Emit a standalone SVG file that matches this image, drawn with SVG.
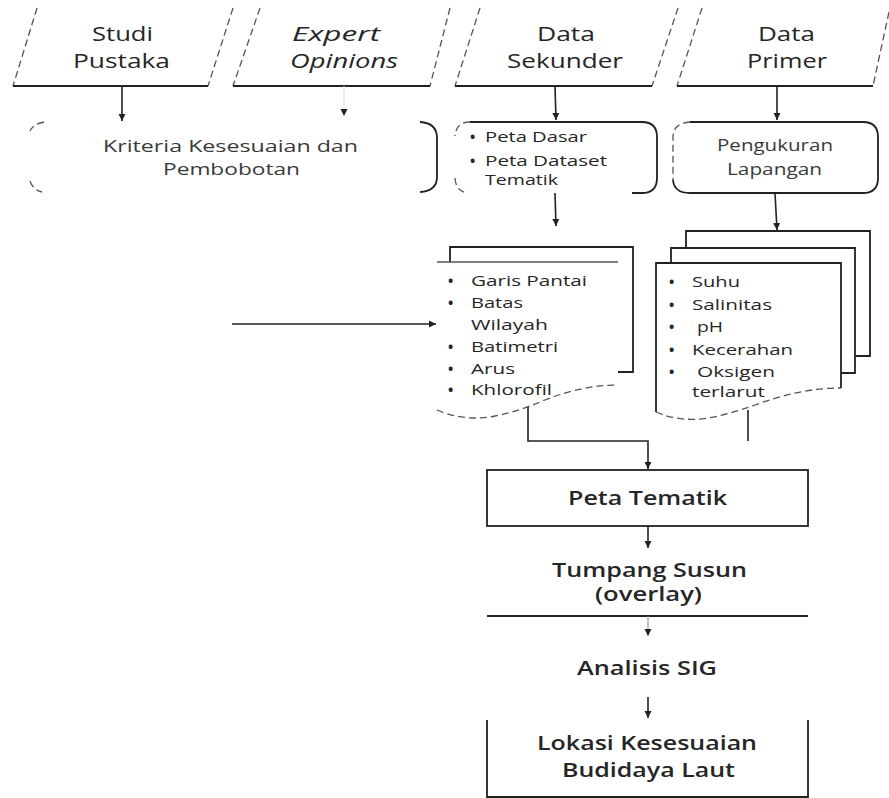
<svg xmlns="http://www.w3.org/2000/svg" width="889" height="798" viewBox="0 0 889 798">
<defs>
<marker id="ah" markerUnits="userSpaceOnUse" markerWidth="9" markerHeight="9" refX="7" refY="4" orient="auto"><path d="M0,0.5 L7,4 L0,7.5 z" fill="#222"/></marker>
</defs>
<style>
text{font-family:"Open Sans","Liberation Sans",sans-serif;fill:#262626}
.t{font-size:20px}
.it{font-style:italic}
.m{font-size:16px;fill:#3a3a3a}
.l{font-size:15px}
.bu{font-size:14px;font-weight:700}
.b{font-size:19px;font-weight:600}
.ln{fill:none;stroke:#222;stroke-width:1.8}
.ds{fill:none;stroke:#555;stroke-width:1.3;stroke-dasharray:7 4}
.fa{fill:none;stroke:#555;stroke-width:1.4}
.cn{fill:none;stroke:#222;stroke-width:1.6}
</style>
<rect width="889" height="798" fill="#fff"/>

<g id="studi-pustaka">
<path class="ds" d="M37 8 L13 86 M233 8 L208 86"/>
<path class="ln" d="M13 86 L208 86"/>
<text class="t" x="92" y="41" textLength="61" lengthAdjust="spacingAndGlyphs">Studi</text>
<text class="t" x="73" y="68" textLength="97" lengthAdjust="spacingAndGlyphs">Pustaka</text>
</g>

<g id="expert-opinions">
<path class="ds" d="M260 8 L233 86 M450 8 L430 86"/>
<path class="ln" d="M233 86 L430 86"/>
<text class="t it" x="292" y="41" textLength="88" lengthAdjust="spacingAndGlyphs">Expert</text>
<text class="t it" x="290" y="68" textLength="108" lengthAdjust="spacingAndGlyphs">Opinions</text>
</g>

<g id="data-sekunder">
<path class="ds" d="M480 8 L455 86 M678 8 L652 86"/>
<path class="ln" d="M455 86 L652 86"/>
<text class="t" x="537" y="41" textLength="58" lengthAdjust="spacingAndGlyphs">Data</text>
<text class="t" x="507" y="68" textLength="116" lengthAdjust="spacingAndGlyphs">Sekunder</text>
</g>

<g id="data-primer">
<path class="ds" d="M702 8 L677 86 M889 12 L873 86"/>
<path class="ln" d="M677 86 L873 86"/>
<text class="t" x="758" y="41" textLength="57" lengthAdjust="spacingAndGlyphs">Data</text>
<text class="t" x="747" y="68" textLength="80" lengthAdjust="spacingAndGlyphs">Primer</text>
</g>

<g id="kriteria">
<path class="ds" d="M44 122 Q33 124 30 131 M30 181 Q33 190 42 192"/>
<path class="ln" d="M420 122 Q437 123 437 138 L437 177 Q437 191 420 192"/>
<text class="m" x="103" y="152" textLength="255" lengthAdjust="spacingAndGlyphs">Kriteria Kesesuaian dan</text>
<text class="m" x="163" y="175" textLength="137" lengthAdjust="spacingAndGlyphs">Pembobotan</text>
</g>

<g id="peta-dasar">
<path class="ln" d="M470 122 L642 122 Q657 122 657 137 L657 178 Q657 193 642 193 L632 193"/>
<path class="ds" d="M470 122 Q456 122 455 136 M455 178 Q456 192 468 193"/>
<text class="bu" x="470" y="142">•</text>
<text class="l" x="485" y="142" textLength="102" lengthAdjust="spacingAndGlyphs">Peta Dasar</text>
<text class="bu" x="470" y="166">•</text>
<text class="l" x="485" y="166" textLength="122" lengthAdjust="spacingAndGlyphs">Peta Dataset</text>
<text class="l" x="485" y="185" textLength="73" lengthAdjust="spacingAndGlyphs">Tematik</text>
</g>

<g id="pengukuran">
<path class="ln" d="M690 122 L863 122 Q878 122 878 137 L878 178 Q878 193 863 193 L690 193 Q674 193 673 180"/>
<path class="ds" d="M690 122 Q674 123 673 136 L673 180"/>
<text class="m" x="717" y="151" textLength="116" lengthAdjust="spacingAndGlyphs">Pengukuran</text>
<text class="m" x="727" y="175" textLength="95" lengthAdjust="spacingAndGlyphs">Lapangan</text>
</g>

<g id="dataset-doc">
<path class="ln" d="M450 262 L450 247 L633 247 L633 372 L618 372"/>
<path class="fa" d="M437 262 L618 262"/>
<path class="ds" d="M437 410 C455 418 475 420 495 416 C515 412 528 407 545 400 C570 390 595 385 618 385"/>
<text class="bu" x="448" y="286">•</text>
<text class="l" x="471" y="286" textLength="116" lengthAdjust="spacingAndGlyphs">Garis Pantai</text>
<text class="bu" x="448" y="308">•</text>
<text class="l" x="471" y="308" textLength="52" lengthAdjust="spacingAndGlyphs">Batas</text>
<text class="l" x="471" y="330" textLength="77" lengthAdjust="spacingAndGlyphs">Wilayah</text>
<text class="bu" x="448" y="352">•</text>
<text class="l" x="471" y="352" textLength="87" lengthAdjust="spacingAndGlyphs">Batimetri</text>
<text class="bu" x="448" y="374">•</text>
<text class="l" x="471" y="374" textLength="44" lengthAdjust="spacingAndGlyphs">Arus</text>
<text class="bu" x="448" y="395">•</text>
<text class="l" x="471" y="395" textLength="81" lengthAdjust="spacingAndGlyphs">Khlorofil</text>
</g>

<g id="lapangan-doc">
<path class="ln" d="M686 248 L686 231 L870 231 L870 356 L855 356"/>
<path class="ln" d="M671 263 L671 248 L855 248 L855 373 L841 373"/>
<path class="ln" d="M656 412 L656 263 L841 263 L841 388"/>
<path class="ds" d="M656 412 C672 419 690 421 708 418 C725 415 738 411 755 405 C785 394 812 388 841 388"/>
<text class="bu" x="669" y="287">•</text>
<text class="l" x="692" y="287" textLength="48" lengthAdjust="spacingAndGlyphs">Suhu</text>
<text class="bu" x="669" y="310">•</text>
<text class="l" x="692" y="310" textLength="80" lengthAdjust="spacingAndGlyphs">Salinitas</text>
<text class="bu" x="669" y="332">•</text>
<text class="l" x="697" y="332" textLength="26" lengthAdjust="spacingAndGlyphs">pH</text>
<text class="bu" x="669" y="355">•</text>
<text class="l" x="692" y="355" textLength="101" lengthAdjust="spacingAndGlyphs">Kecerahan</text>
<text class="bu" x="669" y="377">•</text>
<text class="l" x="697" y="377" textLength="78" lengthAdjust="spacingAndGlyphs">Oksigen</text>
<text class="l" x="692" y="397" textLength="73" lengthAdjust="spacingAndGlyphs">terlarut</text>
</g>

<g id="peta-tematik">
<rect class="ln" x="487" y="470" width="321" height="56"/>
<text class="b" x="568" y="505" textLength="159" lengthAdjust="spacingAndGlyphs">Peta Tematik</text>
</g>

<g id="tumpang-susun">
<path class="ln" d="M487 616 L808 616"/>
<text class="b" x="552" y="577" textLength="195" lengthAdjust="spacingAndGlyphs">Tumpang Susun</text>
<text class="b" x="595" y="601" textLength="107" lengthAdjust="spacingAndGlyphs">(overlay)</text>
</g>

<g id="analisis-sig">
<text class="b" x="577" y="675" textLength="140" lengthAdjust="spacingAndGlyphs">Analisis SIG</text>
</g>

<g id="lokasi">
<path class="ln" d="M487 720 L487 797 L808 797 L808 720"/>
<text class="b" x="537" y="750" textLength="220" lengthAdjust="spacingAndGlyphs">Lokasi Kesesuaian</text>
<text class="b" x="562" y="777" textLength="173" lengthAdjust="spacingAndGlyphs">Budidaya Laut</text>
</g>

<g id="connectors">
<path class="cn" d="M122 86 L122 121" marker-end="url(#ah)"/>
<path d="M344 86 L344 116" fill="none" stroke="#e6e6e6" stroke-width="1.2" marker-end="url(#ah)"/>
<path class="cn" d="M555 86 L556 120" marker-end="url(#ah)"/>
<path class="cn" d="M777 86 L777 120" marker-end="url(#ah)"/>
<path class="cn" d="M555 193 L556 226" marker-end="url(#ah)"/>
<path class="cn" d="M775 193 L777 230" marker-end="url(#ah)"/>
<path class="cn" d="M232 324 L436 324" marker-end="url(#ah)"/>
<path class="cn" d="M528 407 L528 441 L648 441 L648 469" marker-end="url(#ah)"/>
<path class="cn" d="M748 410 L748 441"/>
<path class="cn" d="M648 526 L648 548" marker-end="url(#ah)"/>
<path d="M648 616 L648 636" fill="none" stroke="#999" stroke-width="1.2" marker-end="url(#ah)"/>
<path class="cn" d="M648 697 L648 718" marker-end="url(#ah)"/>
</g>
</svg>
